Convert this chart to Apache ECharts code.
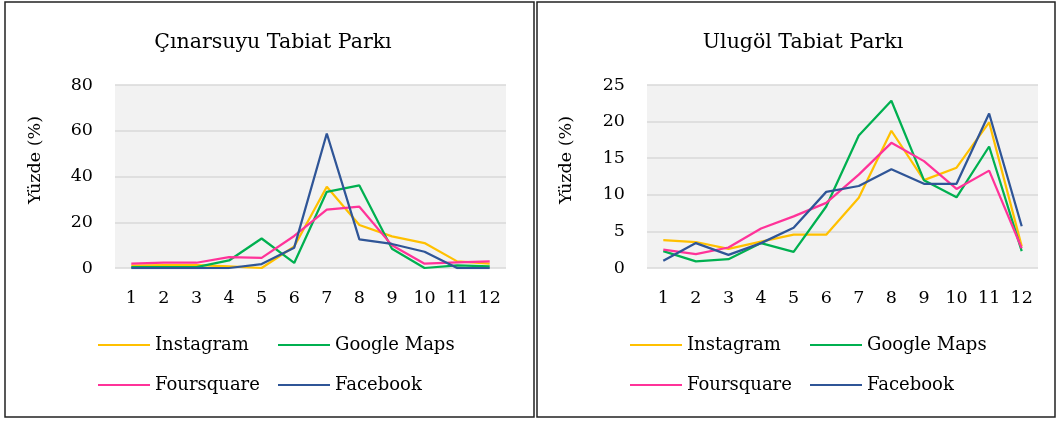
<!DOCTYPE html>
<html>
<head>
<meta charset="utf-8">
<script src="https://cdn.jsdelivr.net/npm/echarts@6.0.0/dist/echarts.min.js"></script>
<style>
  html, body { margin: 0; padding: 0; background: #fff; }
  #chart { width: 1059px; height: 421px; }
</style>
</head>
<body>
<div id="chart"></div>
<script>
// aylar (x ekseni)
const months = ['1', '2', '3', '4', '5', '6', '7', '8', '9', '10', '11', '12']
const seriesNames = ['Instagram', 'Google Maps', 'Foursquare', 'Facebook']
const colors = ['#FFC000', '#00B050', '#FF3399', '#2F5597']

// Çınarsuyu Tabiat Parkı (%)
const cinarInstagram = [1.0, 1.3, 1.3, 0.7, 0.0, 9.4, 35.5, 18.8, 13.8, 10.9, 2.9, 1.9]
const cinarGoogle = [0.4, 0.4, 0.4, 3.3, 12.9, 2.2, 33.3, 36.1, 8.4, 0.0, 1.2, 0.7]
const cinarFoursquare = [1.9, 2.3, 2.3, 4.8, 4.4, 14.0, 25.5, 26.8, 9.9, 1.9, 2.5, 2.9]
const cinarFacebook = [0.0, 0.0, 0.0, 0.0, 1.7, 8.9, 58.8, 12.5, 10.5, 7.1, 0.0, 0.0]

// Ulugöl Tabiat Parkı (%)
const uluInstagram = [3.8, 3.55, 2.6, 3.6, 4.55, 4.55, 9.6, 18.75, 12.0, 13.7, 19.9, 2.95]
const uluGoogle = [2.3, 0.9, 1.2, 3.4, 2.2, 8.4, 18.1, 22.85, 12.0, 9.65, 16.6, 2.3]
const uluFoursquare = [2.5, 1.9, 2.8, 5.4, 7.05, 8.9, 12.75, 17.1, 14.6, 10.8, 13.3, 2.7]
const uluFacebook = [1.0, 3.4, 1.8, 3.4, 5.5, 10.4, 11.2, 13.5, 11.5, 11.5, 21.1, 5.7]

const FONT = '"DejaVu Serif", serif'
const cinarData = [cinarInstagram, cinarGoogle, cinarFoursquare, cinarFacebook]
const uluData = [uluInstagram, uluGoogle, uluFoursquare, uluFacebook]

function makeXAxis(idx) {
  return {
    type: 'category',
    gridIndex: idx,
    data: months,
    boundaryGap: true,
    axisLine: { show: false },
    axisTick: { show: false },
    axisLabel: { color: '#000', fontFamily: FONT, fontSize: 17.5, margin: 21 }
  }
}

function makeYAxis(idx, max, interval) {
  return {
    type: 'value',
    gridIndex: idx,
    min: 0,
    max: max,
    interval: interval,
    axisLine: { show: false },
    axisTick: { show: false },
    axisLabel: { color: '#000', fontFamily: FONT, fontSize: 17.5, margin: 22 },
    splitLine: { lineStyle: { color: '#d9d9d9', width: 1.5 } }
  }
}

function makeSeries(dataList, idx) {
  return dataList.map((d, i) => ({
    name: seriesNames[i],
    type: 'line',
    xAxisIndex: idx,
    yAxisIndex: idx,
    data: d,
    symbol: 'none',
    color: colors[i],
    lineStyle: { width: 2.25, color: colors[i] },
    z: 2 + i
  }))
}

function makeLegend(left) {
  return {
    left: left,
    top: 330,
    width: 360,
    padding: 0,
    orient: 'horizontal',
    icon: 'rect',
    itemWidth: 52,
    itemHeight: 2,
    itemGap: 10,
    data: seriesNames,
    textStyle: { color: '#000', fontFamily: FONT, fontSize: 18, width: 113, lineHeight: 30 }
  }
}

const option = {
  animation: false,
  backgroundColor: '#fff',
  title: [
    { text: 'Çınarsuyu Tabiat Parkı', left: 268, top: 27, textAlign: 'center',
      textStyle: { color: '#000', fontFamily: FONT, fontSize: 20.5, fontWeight: 'normal' } },
    { text: 'Ulugöl Tabiat Parkı', left: 798, top: 27, textAlign: 'center',
      textStyle: { color: '#000', fontFamily: FONT, fontSize: 20.5, fontWeight: 'normal' } }
  ],
  grid: [
    { left: 115, top: 85, width: 391, height: 183, show: true, backgroundColor: '#f2f2f2', borderWidth: 0 },
    { left: 647, top: 85, width: 391, height: 183, show: true, backgroundColor: '#f2f2f2', borderWidth: 0 }
  ],
  xAxis: [makeXAxis(0), makeXAxis(1)],
  yAxis: [makeYAxis(0, 80, 20), makeYAxis(1, 25, 5)],
  legend: [makeLegend(98), makeLegend(630)],
  series: makeSeries(cinarData, 0).concat(makeSeries(uluData, 1)),
  graphic: [
    { type: 'rect', shape: { x: 5, y: 2, width: 529, height: 415 }, style: { fill: 'none', stroke: '#222', lineWidth: 1.5 }, z: -1 },
    { type: 'rect', shape: { x: 537, y: 2, width: 518, height: 415 }, style: { fill: 'none', stroke: '#222', lineWidth: 1.5 }, z: -1 },
    { type: 'text', x: 35, y: 160, rotation: Math.PI / 2,
      style: { text: 'Yüzde (%)', fill: '#000', font: '17.5px ' + FONT, align: 'center', verticalAlign: 'middle' } },
    { type: 'text', x: 566, y: 160, rotation: Math.PI / 2,
      style: { text: 'Yüzde (%)', fill: '#000', font: '17.5px ' + FONT, align: 'center', verticalAlign: 'middle' } }
  ]
}

const chart = echarts.init(document.getElementById('chart'))
chart.setOption(option)
</script>
</body>
</html>
